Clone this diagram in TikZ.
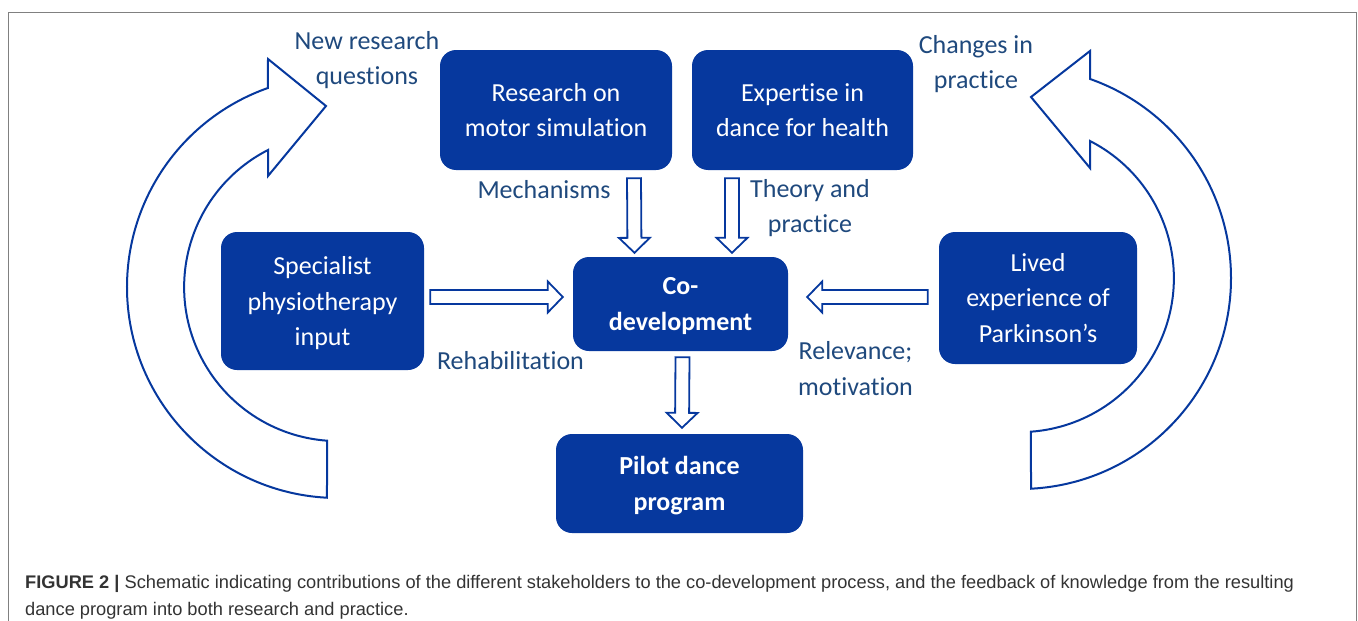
\documentclass[tikz,border=0pt]{standalone}
\usepackage{fontspec}
\setmainfont{Carlito}[Ligatures={TeX,NoCommon}]
\newfontfamily\capfont{Liberation Sans}
\usetikzlibrary{calc}

\definecolor{boxblue}{RGB}{6,56,158}
\definecolor{lblblue}{RGB}{31,73,125}
\definecolor{capgray}{RGB}{51,51,51}
\definecolor{framegray}{RGB}{128,128,128}

\tikzset{
  stake/.style={fill=boxblue, text=white, rounded corners=16pt, align=center, inner sep=0pt, font=\fontsize{26}{35.5}\selectfont},
  stakebold/.style={stake, font=\fontsize{26}{35.5}\selectfont\bfseries},
  lbl/.style={text=lblblue, align=center, inner sep=0pt, font=\fontsize{26}{35.5}\selectfont},
  blockline/.style={draw=boxblue, line width=1.8pt, fill=white, line join=miter},
  loopline/.style={draw=boxblue, line width=2pt, line join=miter}
}

% hollow block arrow from #1 to #2
\newcommand{\blockarrow}[2]{%
  \path (#1) coordinate (ba-s) (#2) coordinate (ba-t) ($(ba-t)!15pt!(ba-s)$) coordinate (ba-h);
  \draw[blockline] ($(ba-s)!7pt!90:(ba-t)$) -- ($(ba-h)!7pt!90:(ba-t)$) -- ($(ba-h)!15.5pt!90:(ba-t)$) -- (ba-t)
    -- ($(ba-h)!15.5pt!-90:(ba-t)$) -- ($(ba-h)!7pt!-90:(ba-t)$) -- ($(ba-s)!7pt!-90:(ba-t)$) -- cycle;}

\begin{document}
\begin{tikzpicture}[x=1pt, y=-1pt]
\useasboundingbox (0,0) rectangle (1358,621);

% Frame
\draw[framegray, line width=1pt] (8,621) -- (8,12) -- (1356,12) -- (1356,621);

% Feedback loops
\draw[loopline] (338,287) ++(267:211pt) arc[start angle=267, end angle=109.4, radius=211pt]
  -- (268,59) -- (326,106) -- (268,176) -- (268,150)
  arc[start angle=117.1, end angle=265.9, radius=154pt] -- cycle;
\draw[loopline] (1020,278) ++(-87:211pt) arc[start angle=-87, end angle=70.6, radius=211pt]
  -- (1090,51) -- (1031,97) -- (1090,168) -- (1090,141)
  arc[start angle=62.9, end angle=-85.9, radius=154pt] -- cycle;

% Stakeholders
\node[stake, minimum width=232pt, minimum height=120pt] (resmot) at (556,110) {Research on\\motor simulation};
\node[stake, minimum width=221pt, minimum height=120pt] (expert) at (802.5,110) {Expertise in\\dance for health};
\node[stake, minimum width=203pt, minimum height=138pt, text depth=0pt] (spec) at (322.5,301) {Specialist\\physiotherapy\\input};
\node[stake, minimum width=198pt, minimum height=132pt] (lived) at (1038,298) {Lived\\experience of\\Parkinson’s};
\node[stakebold, minimum width=215pt, minimum height=94pt, text depth=0pt] (codev) at (680.5,304) {Co-\\development};
\node[stakebold, minimum width=247pt, minimum height=99pt, text depth=0pt] (pilot) at (679.5,483.5) {Pilot dance\\program};

% Contributions
\blockarrow{$(resmot.south)+(78,8)$}{$(codev.north)+(-46,-4)$}
\blockarrow{$(expert.south)+(-70.5,8)$}{$(codev.north)+(51.5,-4)$}
\blockarrow{$(spec.east)+(6,-4)$}{$(codev.west)+(-10,-7)$}
\blockarrow{$(lived.west)+(-11,-1)$}{$(codev.east)+(19,-7)$}
\blockarrow{$(codev.south)+(2,6)$}{$(pilot.north)+(2.5,-6)$}

% Labels
\node[lbl] (newq) at (367,60) {New research\\questions};
\node[lbl] (chg) at (976,64) {Changes in\\practice};
\node[lbl] (mech) at (544,190) {Mechanisms};
\node[lbl] (theory) at (810,208) {Theory and\\practice};
\node[lbl] (rehab) at (510.5,361) {Rehabilitation};
\node[lbl] (relev) at (855.5,368.5) {Relevance;\\motivation};

% Caption
\node[anchor=north west, align=left, inner sep=0pt, text=capgray, font=\capfont\fontsize{18.25}{27}\selectfont] (caption) at (25,575)
  {\textbf{FIGURE 2 |} Schematic indicating contributions of the different stakeholders to the co-development process, and the feedback of knowledge from the resulting\\dance program into both research and practice.};

\end{tikzpicture}
\end{document}
